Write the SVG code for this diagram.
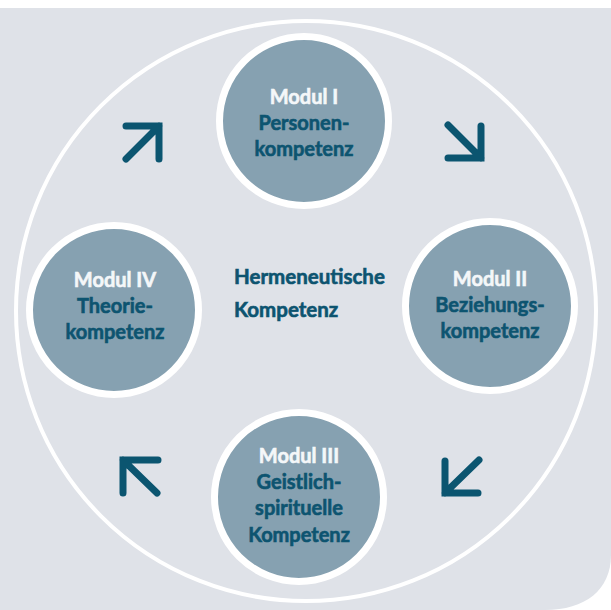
<svg xmlns="http://www.w3.org/2000/svg" width="611" height="610" viewBox="0 0 611 610">
  <style>
    .bg { fill: #dfe2e8; }
    .ring { fill: none; stroke: #ffffff; stroke-width: 4; }
    .node circle { fill: #86a1b1; stroke: #ffffff; stroke-width: 7; }
    .t { font-family: Lato, "Noto Sans", "Liberation Sans", sans-serif; font-weight: 700; font-size: 20px; text-anchor: middle; stroke-width: 0.6; }
    .w { fill: #f4f7f9; stroke: #f4f7f9; }
    .d { fill: #0d5470; stroke: #0d5470; }
    .center { font-family: Lato, "Noto Sans", "Liberation Sans", sans-serif; font-weight: 700; font-size: 20.5px; fill: #0d5470; stroke: #0d5470; stroke-width: 0.6; }
    .arrow { fill: none; stroke: #0b5570; stroke-width: 7; stroke-linecap: round; stroke-linejoin: miter; }
  </style>
  <rect width="611" height="610" fill="#ffffff"/>
  <path class="bg" d="M0 8 H611 V555 C611 590 585 610 545 610 H0 Z"/>
  <circle class="ring" cx="306" cy="311" r="290"/>

  <g id="connectors">
    <path class="arrow" d="M126 126 H159 V159 M159 126 L126 159"/>
    <path class="arrow" d="M448 125 L481 158 M481 126 V158 H448"/>
    <path class="arrow" d="M479 460 L445 493 M445 461 V493 H478"/>
    <path class="arrow" d="M157 493 L123 460 M158 460 H123 V493"/>
  </g>

  <g id="modul1" class="node">
    <circle cx="304" cy="121" r="84.5"/>
    <text class="t w" x="304" y="104">Modul I</text>
    <text class="t d" x="304" y="130">Personen-</text>
    <text class="t d" x="304" y="156">kompetenz</text>
  </g>
  <g id="modul2" class="node">
    <circle cx="490" cy="306" r="84.5"/>
    <text class="t w" x="490" y="286">Modul II</text>
    <text class="t d" x="490" y="312">Beziehungs-</text>
    <text class="t d" x="490" y="338">kompetenz</text>
  </g>
  <g id="modul3" class="node">
    <circle cx="299" cy="497" r="84.5"/>
    <text class="t w" x="299" y="463">Modul III</text>
    <text class="t d" x="299" y="489">Geistlich-</text>
    <text class="t d" x="299" y="515">spirituelle</text>
    <text class="t d" x="299" y="542">Kompetenz</text>
  </g>
  <g id="modul4" class="node">
    <circle cx="114" cy="310" r="84.5"/>
    <text class="t w" x="115" y="287">Modul IV</text>
    <text class="t d" x="115" y="313">Theorie-</text>
    <text class="t d" x="115" y="339">kompetenz</text>
  </g>
  <g id="hermeneutik">
    <text class="center" x="234" y="284">Hermeneutische</text>
    <text class="center" x="234" y="317">Kompetenz</text>
  </g>
</svg>
